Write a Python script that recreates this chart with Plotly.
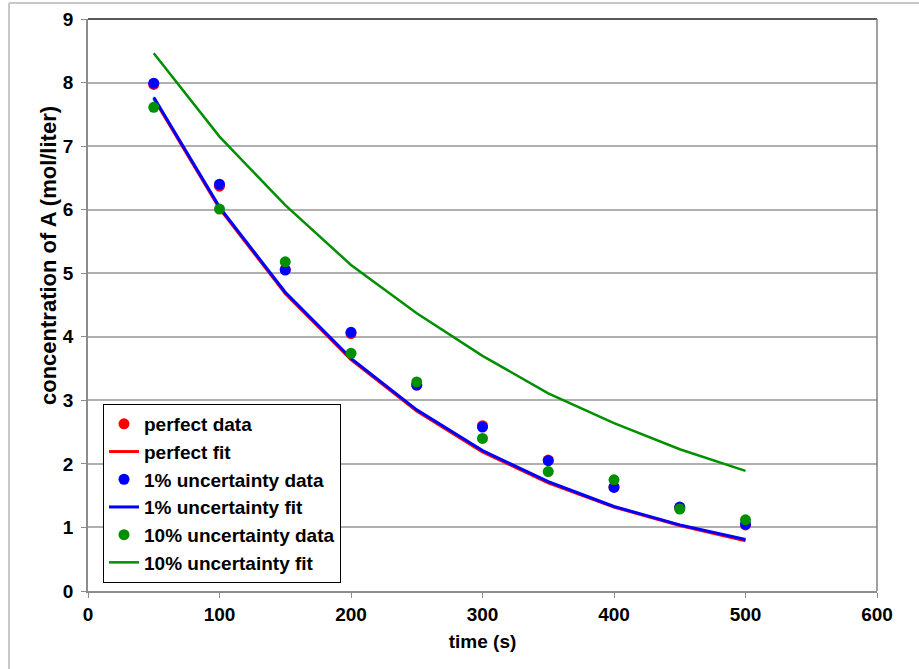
import plotly.graph_objects as go

time_s = [50, 100, 150, 200, 250, 300, 350, 400, 450, 500]

perfect_data = [7.97, 6.37, 5.06, 4.05, 3.24, 2.60, 2.06, 1.64, 1.31, 1.04]
perfect_fit = [7.75, 6.02, 4.68, 3.64, 2.83, 2.19, 1.70, 1.32, 1.03, 0.79]

unc1_data = [7.99, 6.40, 5.05, 4.07, 3.24, 2.58, 2.05, 1.63, 1.32, 1.05]
unc1_fit = [7.77, 6.04, 4.70, 3.66, 2.85, 2.21, 1.72, 1.33, 1.04, 0.81]

unc10_data = [7.61, 6.01, 5.18, 3.74, 3.29, 2.40, 1.88, 1.75, 1.29, 1.12]
unc10_fit = [8.46, 7.15, 6.07, 5.13, 4.37, 3.70, 3.11, 2.64, 2.23, 1.89]

x_ticks = [0, 100, 200, 300, 400, 500, 600]
y_ticks = [0, 1, 2, 3, 4, 5, 6, 7, 8, 9]

x_title = "time (s)"
y_title = "concentration of A (mol/liter)"

FONT = "Liberation Sans, Arial, sans-serif"

series = [
    ("perfect data", perfect_data, "markers", "#ff0000"),
    ("perfect fit", perfect_fit, "lines", "#ff0000"),
    ("1% uncertainty data", unc1_data, "markers", "#0000ff"),
    ("1% uncertainty fit", unc1_fit, "lines", "#0000ff"),
    ("10% uncertainty data", unc10_data, "markers", "#008f00"),
    ("10% uncertainty fit", unc10_fit, "lines", "#008f00"),
]

fig = go.Figure()
for i, (name, vals, mode, color) in enumerate(series):
    if mode == "markers":
        fig.add_trace(go.Scatter(
            x=time_s, y=vals, mode="markers", name=f"<b>{name}</b>",
            marker=dict(color=color, size=11, line=dict(width=0)),
            cliponaxis=False))
    else:
        w = 2.5 if "10%" in name else 3
        fig.add_trace(go.Scatter(
            x=time_s, y=vals, mode="lines", name=f"<b>{name}</b>",
            line=dict(color=color, width=w),
            cliponaxis=False))

W, H = 919, 669
L, T, R, B = 88, 19, 877, 591
pw, ph = R - L, B - T


def px(xp):
    return (xp - L) / pw


def py(yp):
    return (B - yp) / ph


shapes = [
    # outer chart border (light gray)
    dict(type="line", xref="paper", yref="paper", x0=px(9), x1=px(930), y0=py(3), y1=py(3),
         line=dict(color="#c8c8c8", width=2)),
    dict(type="line", xref="paper", yref="paper", x0=px(9), x1=px(9), y0=py(3), y1=py(680),
         line=dict(color="#c8c8c8", width=2)),
    # plot area border top / right
    dict(type="line", xref="paper", yref="paper", x0=0, x1=1, y0=1, y1=1,
         line=dict(color="#222222", width=1.5)),
    dict(type="line", xref="paper", yref="paper", x0=1, x1=1, y0=0, y1=1,
         line=dict(color="#808080", width=1.5)),
]

fig.update_layout(
    width=W, height=H,
    margin=dict(l=L, r=W - R, t=T, b=H - B, autoexpand=False),
    paper_bgcolor="white", plot_bgcolor="white",
    font=dict(family=FONT, color="black"),
    showlegend=True,
    legend=dict(
        x=px(103), y=py(404), xanchor="left", yanchor="top",
        bgcolor="white", bordercolor="black", borderwidth=1,
        font=dict(family=FONT, size=19, color="black"),
        traceorder="normal", itemwidth=30,
    ),
    shapes=shapes,
    annotations=[
        dict(text=f"<b>{y_title}</b>", xref="paper", yref="paper",
             x=px(48), y=py(256), xanchor="center", yanchor="middle",
             textangle=-90, showarrow=False,
             font=dict(family=FONT, size=22, color="black")),
    ],
    xaxis=dict(
        range=[0, 600], tickvals=x_ticks, ticktext=[f"<b>{v}</b>" for v in x_ticks],
        showgrid=False, zeroline=False, automargin=False,
        showline=True, linecolor="#8c8c8c", linewidth=1.5,
        ticks="outside", ticklen=5, tickcolor="#8c8c8c", tickwidth=1,
        tickfont=dict(family=FONT, size=19, color="black"),
        title=dict(text=f"<b>{x_title}</b>", font=dict(family=FONT, size=19, color="black"), standoff=11),
    ),
    yaxis=dict(
        range=[0, 9], tickvals=y_ticks, ticktext=[f"<b>{v}</b>" for v in y_ticks],
        showgrid=True, gridcolor="#b0b0b0", gridwidth=1.5, zeroline=False, automargin=False,
        showline=True, linecolor="#8c8c8c", linewidth=1.5,
        ticks="outside", ticklen=5, tickcolor="#8c8c8c", tickwidth=1,
        ticklabelstandoff=4,
        tickfont=dict(family=FONT, size=19, color="black"),
    ),
)

fig.write_html("out.html")
